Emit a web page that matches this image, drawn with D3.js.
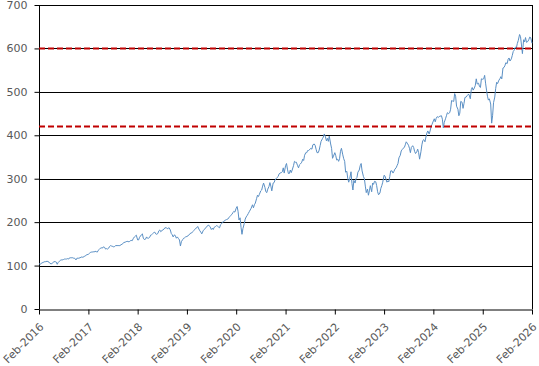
<!DOCTYPE html>
<html>
<head>
<meta charset="utf-8">
<script src="https://cdn.jsdelivr.net/npm/d3@7"></script>
<style>
  body { margin: 0; background: #fff; }
  svg { display: block; }
  .tick text { fill: #595959; font-size: 11px; font-family: "DejaVu Sans", Verdana, sans-serif; }
  .grid line { stroke: #000; stroke-width: 1; }
</style>
</head>
<body>
<div id="chart"></div>
<script>
// price series, ~weekly (4 points per month), starting Feb 2016
var firstMonth = new Date(2016, 1, 1);
var weeklyClose = [
  // 2016 Feb-Dec
  105,103,104,106, 107,108,109,109, 110,109,108,105, 104,105,107,109, 109,108,103,107,
  110,112,113,113, 114,115,115,115, 116,115,118,118, 118,118,117,117, 113,117,117,117,
  118,119,120,119,
  // 2017
  121,122,124,125, 126,128,130,131, 131,132,131,133, 132,131,135,137, 140,141,140,143,
  142,138,139,138, 140,144,146,145, 144,143,144,146, 146,146,146,146, 148,149,151,153,
  154,155,156,155, 155,157,158,157,
  // 2018
  163,166,168,170, 159,159,165,168, 171,173,163,160, 161,166,163,163, 165,170,171,173,
  176,177,173,172, 174,180,182,178, 181,182,184,187, 187,185,186,187, 182,174,171,166,
  171,168,163,166, 162,159,145,155,
  // 2019
  160,163,164,166, 167,168,171,172, 175,175,178,180, 183,186,187,190, 184,180,177,173,
  180,183,185,187, 191,193,192,190, 183,186,183,188, 190,192,191,189, 187,194,196,200,
  201,204,205,206, 207,210,213,215,
  // 2020
  218,222,225,223, 232,236,225,205, 210,188,172,185, 197,207,212,215, 220,224,228,232,
  240,233,240,244, 254,262,259,264, 272,274,283,290, 280,270,268,276, 282,291,283,272,
  290,291,297,300, 303,305,311,313,
  // 2021
  314,316,325,313, 330,335,322,312, 312,320,314,320, 330,340,338,338, 330,325,332,334,
  338,345,342,354, 360,360,365,365, 368,370,368,378, 380,377,368,360, 360,366,376,386,
  392,396,403,398, 387,393,386,398,
  // 2022
  380,370,347,352, 360,353,343,345, 340,346,363,370, 355,346,340,315, 317,300,292,300,
  316,289,274,296, 290,300,303,315, 320,330,335,318, 305,300,283,268, 276,262,272,284,
  270,290,287,294, 293,284,270,263,
  // 2023
  267,278,284,292, 308,306,299,292, 295,293,305,318, 318,313,317,322, 325,330,335,348,
  354,364,367,370, 372,378,385,382, 377,370,360,372, 376,372,363,358, 362,368,360,345,
  362,378,388,390, 385,396,405,410,
  // 2024
  403,410,420,425, 433,438,431,439, 443,441,443,444, 445,437,417,430, 438,445,452,450,
  452,460,480,479, 478,496,490,467, 460,445,451,478, 476,462,473,487, 488,491,494,494,
  484,505,510,504, 509,515,530,518,
  // 2025
  520,512,510,530, 529,530,538,520, 504,490,481,484, 472,428,445,475, 488,508,522,519,
  527,530,535,530, 555,556,560,567, 565,575,578,571, 576,584,593,596, 603,601,611,618,
  632,627,608,588, 620,615,625,614,
  // 2026 Jan, Feb
  616,620,626,625, 612
];

var xTickYears = d3.range(2016, 2027);
var yTickValues = [0, 100, 200, 300, 400, 500, 600, 700];
var refLevels = [600, 420];

var data = weeklyClose.map(function(v, i) {
  var m = Math.floor(i / 4), k = i % 4;
  return { date: new Date(firstMonth.getFullYear(), firstMonth.getMonth() + m, 1 + k * 7), value: v };
});

var width = 539, height = 366;
var margin = {top: 5, right: 7, bottom: 57, left: 39};

var svg = d3.select("#chart").append("svg")
  .attr("width", width)
  .attr("height", height);

var x = d3.scaleTime()
  .domain([new Date(2016, 1, 1), new Date(2026, 1, 1)])
  .range([margin.left, width - margin.right]);

var y = d3.scaleLinear()
  .domain([0, 700])
  .range([height - margin.bottom, margin.top]);

// horizontal grid
svg.append("g")
  .attr("class", "grid")
  .selectAll("line")
  .data(yTickValues.slice(1))
  .enter().append("line")
  .attr("x1", margin.left)
  .attr("x2", width - margin.right)
  .attr("y1", function(d) { return Math.round(y(d)) + 0.5; })
  .attr("y2", function(d) { return Math.round(y(d)) + 0.5; });

// right border
svg.append("line")
  .attr("x1", width - margin.right + 0.5)
  .attr("x2", width - margin.right + 0.5)
  .attr("y1", y(700))
  .attr("y2", y(0))
  .attr("stroke", "#000");

var yAxis = d3.axisLeft(y)
  .tickValues(yTickValues)
  .tickSize(5)
  .tickPadding(7);

var gy = svg.append("g")
  .attr("transform", "translate(" + (margin.left + 0.5) + ",0)")
  .call(yAxis);
gy.selectAll("line, path").attr("stroke", "#000");
gy.select(".domain").remove();
gy.append("line")
  .attr("y1", y(700)).attr("y2", y(0))
  .attr("stroke", "#000");

var xAxis = d3.axisBottom(x)
  .tickValues(xTickYears.map(function(yr) { return new Date(yr, 1, 1); }))
  .tickSize(5)
  .tickSizeOuter(0)
  .tickFormat(d3.timeFormat("%b-%Y"));

var gx = svg.append("g")
  .attr("transform", "translate(0," + (Math.round(y(0)) + 0.5) + ")")
  .call(xAxis);
gx.selectAll("line, path").attr("stroke", "#000");
gx.selectAll("text")
  .attr("text-anchor", "end")
  .attr("dy", null)
  .attr("y", 0)
  .attr("transform", "translate(5,18) rotate(-45)");

// price line
var line = d3.line()
  .x(function(d) { return x(d.date); })
  .y(function(d) { return y(d.value); });

svg.append("path")
  .datum(data)
  .attr("fill", "none")
  .attr("stroke", "#5a8fc4")
  .attr("stroke-width", 1)
  .attr("stroke-linejoin", "round")
  .attr("d", line);

// reference levels
svg.selectAll(".ref")
  .data(refLevels)
  .enter().append("line")
  .attr("class", "ref")
  .attr("x1", margin.left)
  .attr("x2", width - margin.right)
  .attr("y1", function(d) { return y(d); })
  .attr("y2", function(d) { return y(d); })
  .attr("stroke", "#c00000")
  .attr("stroke-width", 2)
  .attr("stroke-dasharray", "6,3");
</script>
</body>
</html>
